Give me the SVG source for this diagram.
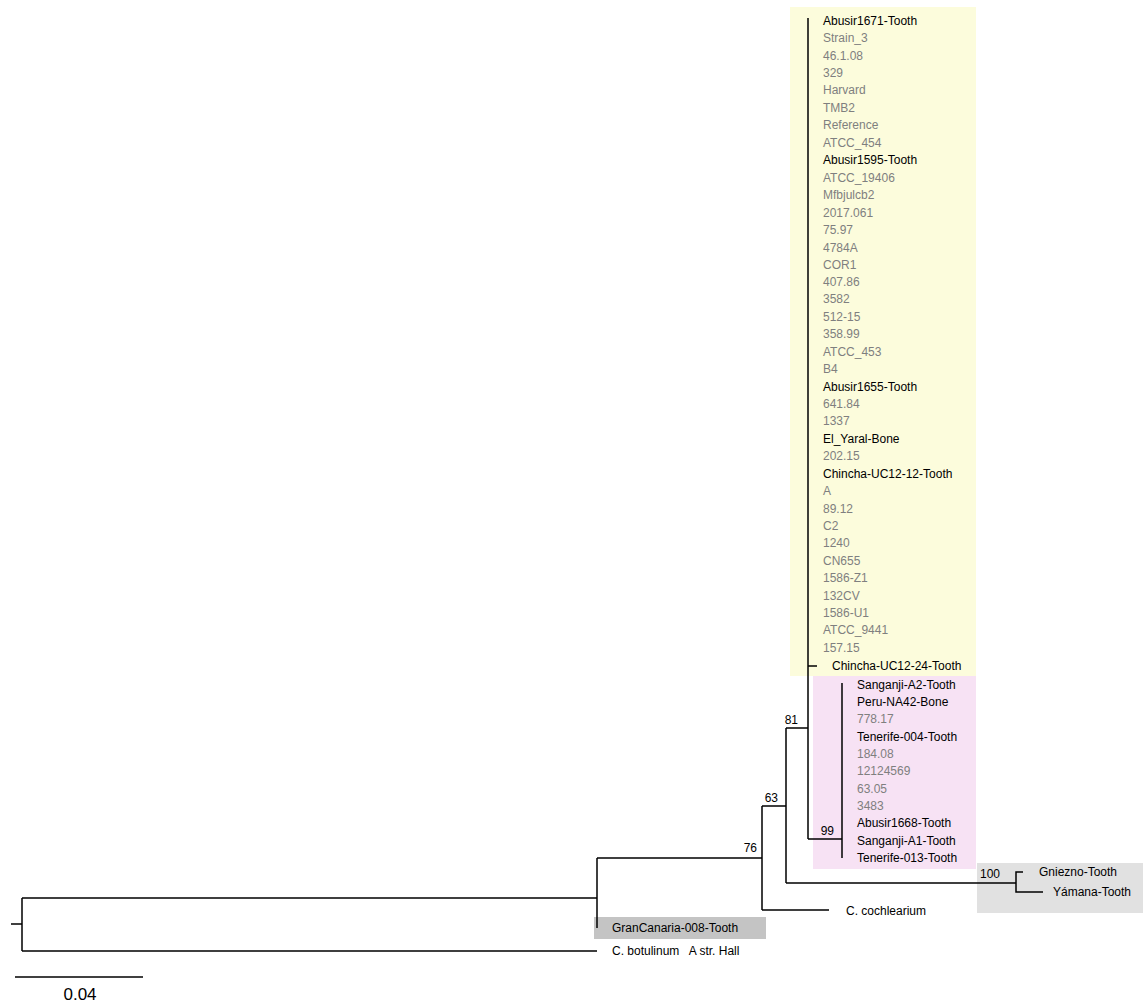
<svg xmlns="http://www.w3.org/2000/svg" width="1143" height="1005" viewBox="0 0 1143 1005">
<style>
text{font-family:"Liberation Sans",Arial,sans-serif;font-size:12px;fill:#000}
.g{fill:#7f7f7f}
.e{stroke:#000;stroke-width:1.5;fill:none}
.sup{font-size:12px}
</style>
<rect width="1143" height="1005" fill="#fff"/>
<g id="highlights">
<rect x="790" y="7" width="186" height="669" fill="#fcfcdc"/>
<rect x="813" y="676" width="163" height="193" fill="#f7e2f4"/>
<rect x="977" y="863" width="166" height="50" fill="#e1e1e1"/>
<rect x="594" y="917" width="172" height="22" fill="#c4c4c4"/>
</g>
<g id="connectors">
<path class="e" d="M11,924H22M22,898V951M22,898H597M22,951H597"/>
<path class="e" d="M597,858V928M597,858H762"/>
<path class="e" d="M762,806V910M762,910H829M762,806H786"/>
<path class="e" d="M786,728V883M786,728H808M786,883H1016"/>
<path class="e" d="M808,18V839M808,666H817M808,839H842"/>
<path class="e" d="M842,683V858"/>
<path class="e" d="M1023,872H1016V892H1043"/>
<path class="e" d="M15,977H143"/>
</g>
<g id="support">
<text x="757" y="852" text-anchor="end">76</text>
<text x="778" y="802" text-anchor="end">63</text>
<text x="798" y="724" text-anchor="end">81</text>
<text x="834" y="835" text-anchor="end">99</text>
<text x="1000" y="878" text-anchor="end">100</text>
</g>
<g id="yellow-clade">
<text x="823" y="25">Abusir1671-Tooth</text>
<text x="823" y="42" class="g">Strain_3</text>
<text x="823" y="60" class="g">46.1.08</text>
<text x="823" y="77" class="g">329</text>
<text x="823" y="94" class="g">Harvard</text>
<text x="823" y="112" class="g">TMB2</text>
<text x="823" y="129" class="g">Reference</text>
<text x="823" y="147" class="g">ATCC_454</text>
<text x="823" y="164">Abusir1595-Tooth</text>
<text x="823" y="182" class="g">ATCC_19406</text>
<text x="823" y="199" class="g">Mfbjulcb2</text>
<text x="823" y="217" class="g">2017.061</text>
<text x="823" y="234" class="g">75.97</text>
<text x="823" y="252" class="g">4784A</text>
<text x="823" y="269" class="g">COR1</text>
<text x="823" y="286" class="g">407.86</text>
<text x="823" y="303" class="g">3582</text>
<text x="823" y="321" class="g">512-15</text>
<text x="823" y="338" class="g">358.99</text>
<text x="823" y="356" class="g">ATCC_453</text>
<text x="823" y="373" class="g">B4</text>
<text x="823" y="391">Abusir1655-Tooth</text>
<text x="823" y="408" class="g">641.84</text>
<text x="823" y="425" class="g">1337</text>
<text x="823" y="443">El_Yaral-Bone</text>
<text x="823" y="460" class="g">202.15</text>
<text x="823" y="478">Chincha-UC12-12-Tooth</text>
<text x="823" y="495" class="g">A</text>
<text x="823" y="513" class="g">89.12</text>
<text x="823" y="530" class="g">C2</text>
<text x="823" y="547" class="g">1240</text>
<text x="823" y="565" class="g">CN655</text>
<text x="823" y="582" class="g">1586-Z1</text>
<text x="823" y="600" class="g">132CV</text>
<text x="823" y="617" class="g">1586-U1</text>
<text x="823" y="634" class="g">ATCC_9441</text>
<text x="823" y="652" class="g">157.15</text>
<text x="832" y="670">Chincha-UC12-24-Tooth</text>
</g>
<g id="pink-clade">
<text x="857" y="689">Sanganji-A2-Tooth</text>
<text x="857" y="706">Peru-NA42-Bone</text>
<text x="857" y="723" class="g">778.17</text>
<text x="857" y="741">Tenerife-004-Tooth</text>
<text x="857" y="758" class="g">184.08</text>
<text x="857" y="775" class="g">12124569</text>
<text x="857" y="793" class="g">63.05</text>
<text x="857" y="810" class="g">3483</text>
<text x="857" y="827">Abusir1668-Tooth</text>
<text x="857" y="845">Sanganji-A1-Tooth</text>
<text x="857" y="862">Tenerife-013-Tooth</text>
</g>
<g id="outgroups">
<text x="1039" y="876">Gniezno-Tooth</text>
<text x="1053" y="896">Yámana-Tooth</text>
<text x="846" y="915">C. cochlearium</text>
<text x="612" y="932">GranCanaria-008-Tooth</text>
<text x="612" y="955" style="white-space:pre">C. botulinum   A str. Hall</text>
</g>
<g id="scale">
<text x="80" y="1000" text-anchor="middle" style="font-size:17px">0.04</text>
</g>
</svg>
